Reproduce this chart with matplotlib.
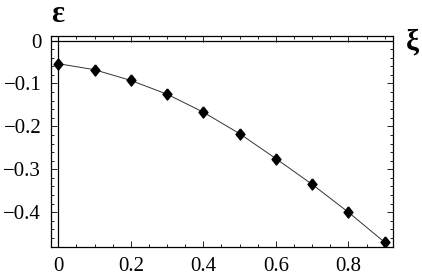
import matplotlib
matplotlib.use("Agg")
import matplotlib.pyplot as plt
from matplotlib.ticker import MultipleLocator, FuncFormatter

xi = [0.0, 0.1, 0.2, 0.3, 0.4, 0.5, 0.6, 0.7, 0.8, 0.9]
eps = [-0.054, -0.068, -0.093, -0.125, -0.167, -0.217, -0.275, -0.335, -0.400, -0.470]

x_ticks = [0, 0.2, 0.4, 0.6, 0.8]
y_ticks = [0, -0.1, -0.2, -0.3, -0.4]

plt.rcParams["font.family"] = ["Liberation Serif", "DejaVu Serif"]

fig = plt.figure(figsize=(4.22, 2.77), dpi=100)
ax = fig.add_axes([51 / 422, 1 - 247 / 277, 342 / 422, 211 / 277])

ax.axhline(0, color="black", linewidth=0.9, zorder=1)
ax.axvline(0, color="black", linewidth=0.9, zorder=1)

diamond = [(0, 1), (0.8, 0), (0, -1), (-0.8, 0), (0, 1)]
ax.plot(xi, eps, color="#333333", linewidth=0.7, zorder=2)
ax.plot(xi, eps, linestyle="none", marker=diamond, markersize=8,
        color="black", zorder=3)

ax.set_xlim(-0.020, 0.923)
ax.set_ylim(-0.481, 0.0105)

ax.set_xticks(x_ticks)
ax.set_yticks(y_ticks)
ax.xaxis.set_minor_locator(MultipleLocator(0.05))
ax.yaxis.set_minor_locator(MultipleLocator(0.02))


def fmt(v, pos):
    if abs(v) < 1e-9:
        return "0"
    return ("%.1f" % v).replace("-", "\u2212")


ax.xaxis.set_major_formatter(FuncFormatter(fmt))
ax.yaxis.set_major_formatter(FuncFormatter(fmt))

ax.tick_params(which="both", direction="in", top=True, right=True,
               labelsize=15, color="black", width=0.6)
ax.tick_params(which="major", length=4)
ax.tick_params(which="minor", length=2)
ax.tick_params(axis="x", pad=7)
ax.tick_params(axis="y", pad=7)

for s in ax.spines.values():
    s.set_linewidth(0.9)

fig.text(58 / 422, 1 - 14 / 277, "\u03b5", fontsize=22, fontweight="bold",
         ha="center", va="center")
fig.text(412 / 422, 1 - 42 / 277, "\u03be", fontsize=21, fontweight="bold",
         ha="center", va="center")

fig.savefig("out.png", dpi=100)
